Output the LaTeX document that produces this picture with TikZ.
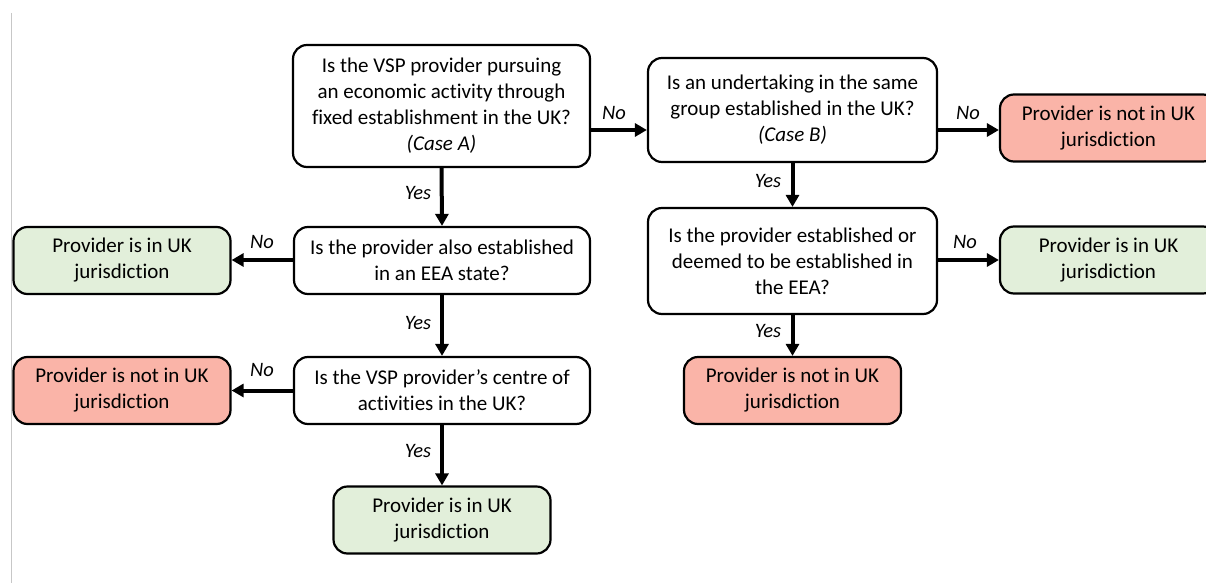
\documentclass[tikz,border=0pt]{standalone}
\usepackage{fontspec}
\setmainfont{Carlito}[Ligatures=NoCommon]
\usetikzlibrary{arrows.meta}
\definecolor{redfill}{RGB}{250,180,168}
\definecolor{greenfill}{RGB}{226,239,218}
\tikzset{
  box/.style={draw=black, line width=2.2pt, rounded corners=14pt, align=center, inner sep=0pt,
    font=\fontsize{21}{26}\selectfont},
  qbox/.style={box, fill=white},
  redbox/.style={box, fill=redfill, minimum width=217pt, minimum height=67pt},
  greenbox/.style={box, fill=greenfill, minimum width=217pt, minimum height=67pt},
  arr/.style={line width=4pt, -{Triangle[length=12pt,width=13pt]}},
  lab/.style={font=\fontsize{20.5}{22}\selectfont\itshape, inner sep=0pt}
}
\begin{document}
\begin{tikzpicture}[x=1pt,y=-1pt]
\useasboundingbox (0,0) rectangle (1206,583);
\draw[color=black!22, line width=1pt] (11.5,13) -- (11.5,583);
% question boxes
\node[qbox, minimum width=297pt, minimum height=122pt] (A) at (441.5,106)
  {Is the VSP provider pursuing\\an economic activity through\\fixed establishment in the UK?\\\textit{(Case A)}};
\node[qbox, minimum width=289pt, minimum height=104pt] (B) at (792.5,110)
  {Is an undertaking in the same\\group established in the UK?\\\textit{(Case B)}};
\node[qbox, minimum width=289pt, minimum height=106pt] (C) at (792.5,261)
  {Is the provider established or\\deemed to be established in\\the EEA?};
\node[qbox, minimum width=296pt, minimum height=67pt] (D) at (442,260.5)
  {Is the provider also established\\in an EEA state?};
\node[qbox, minimum width=296pt, minimum height=67pt] (E) at (442,390.5)
  {Is the VSP provider’s centre of\\activities in the UK?};
% outcome boxes
\node[redbox] (R1) at (1108.5,128) {Provider is not in UK\\jurisdiction};
\node[greenbox] (G1) at (1108.5,260) {Provider is in UK\\jurisdiction};
\node[redbox] (R2) at (792.5,390.5) {Provider is not in UK\\jurisdiction};
\node[greenbox] (G2) at (122,260.5) {Provider is in UK\\jurisdiction};
\node[redbox] (R3) at (122,390.5) {Provider is not in UK\\jurisdiction};
\node[greenbox] (G3) at (442,520) {Provider is in UK\\jurisdiction};
% row levels
\coordinate (y1) at (0,130);
\coordinate (y2) at (0,260);
\coordinate (y3) at (0,390.5);
% connectors
\draw[arr] (A.east |- y1) -- (B.west |- y1);
\draw[arr] (B.east |- y1) -- (R1.west |- y1);
\draw[arr] (A.south) -- (D.north);
\draw[arr] (B.south) -- (C.north);
\draw[arr] (D.west |- y2) -- (G2.east |- y2);
\draw[arr] (C.east |- y2) -- (G1.west |- y2);
\draw[arr] (D.south) -- (E.north);
\draw[arr] (C.south) -- (R2.north);
\draw[arr] (E.west |- y3) -- (R3.east |- y3);
\draw[arr] (E.south) -- (G3.north);
% labels
\node[lab] (l1) at (614,113) {No};
\node[lab] (l2) at (968,113) {No};
\node[lab] (l3) at (418,193) {Yes};
\node[lab] (l4) at (768,181) {Yes};
\node[lab] (l5) at (262,242) {No};
\node[lab] (l6) at (965,242) {No};
\node[lab] (l7) at (418,323) {Yes};
\node[lab] (l8) at (768,331) {Yes};
\node[lab] (l9) at (262,370) {No};
\node[lab] (l10) at (418,451) {Yes};
\end{tikzpicture}
\end{document}
